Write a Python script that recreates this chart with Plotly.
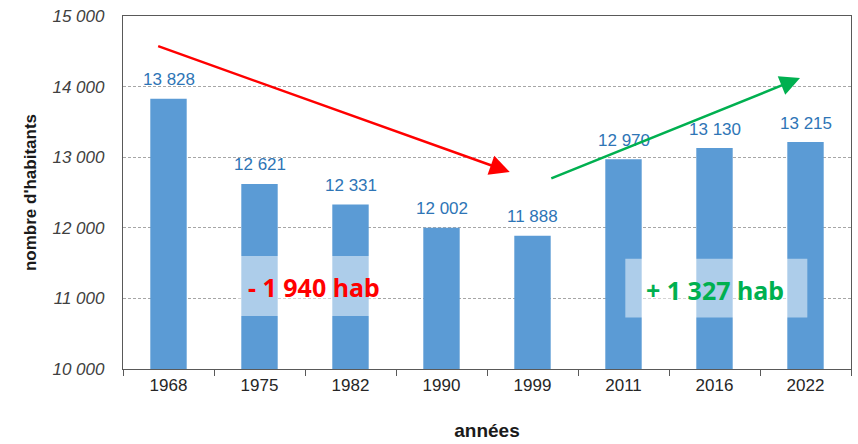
import plotly.graph_objects as go

years = ["1968", "1975", "1982", "1990", "1999", "2011", "2016", "2022"]
population = [13828, 12621, 12331, 12002, 11888, 12970, 13130, 13215]
y_ticks = [10000, 11000, 12000, 13000, 14000, 15000]
decline_text = "- 1 940 hab"
growth_text = "+ 1 327 hab"

BAR = "#5B9BD5"
LABEL = "#2E75B6"
AXIS = "#595959"

def fmt(v):
    return f"{v:,}".replace(",", " ")

fig = go.Figure()
fig.add_trace(go.Bar(x=years, y=population, marker=dict(color=BAR, line=dict(width=0)),
                     width=0.4, hoverinfo="x+y"))

annotations = []
for i, v in enumerate(population):
    annotations.append(dict(x=i, y=v, xref="x", yref="y", text=fmt(v), showarrow=False,
                            yanchor="middle", yshift=19,
                            font=dict(family="Liberation Sans, Arial", size=17, color=LABEL)))

# trend arrows
annotations.append(dict(x=3.75, y=12790, ax=-0.13, ay=14580, axref="x", ayref="y", xref="x", yref="y",
                        text="", showarrow=True, arrowhead=2, arrowsize=1.6, arrowwidth=2.5,
                        arrowcolor="#FF0000", standoff=0))
annotations.append(dict(x=6.94, y=14122, ax=4.19, ay=12691, axref="x", ayref="y", xref="x", yref="y",
                        text="", showarrow=True, arrowhead=2, arrowsize=1.6, arrowwidth=2.5,
                        arrowcolor="#00B050", standoff=0))

annotations.append(dict(x=1.6, y=11165, text=f"<b>{decline_text}</b>", showarrow=False,
                        font=dict(family="Noto Sans", size=25, color="#FF0000")))
annotations.append(dict(x=6.0, y=11125, text=f"<b>{growth_text}</b>", showarrow=False,
                        font=dict(family="Noto Sans", size=25, color="#00B050")))

shapes = [
    dict(type="rect", xref="x", yref="y", x0=0.75, x1=2.3, y0=10750, y1=11600,
         fillcolor="rgba(255,255,255,0.5)", line=dict(width=0), layer="above"),
    dict(type="rect", xref="x", yref="y", x0=5.02, x1=7.02, y0=10730, y1=11560,
         fillcolor="rgba(255,255,255,0.5)", line=dict(width=0), layer="above"),
]

fig.update_layout(
    width=858, height=444,
    margin=dict(l=123, r=7, t=16, b=75),
    paper_bgcolor="white", plot_bgcolor="white",
    separators=", ",
    showlegend=False,
    annotations=annotations,
    shapes=shapes,
    xaxis=dict(
        type="category", tickson="boundaries", ticks="outside", ticklen=6, tickcolor=AXIS,
        showline=True, linecolor=AXIS, linewidth=1.3, mirror=True, showgrid=False,
        automargin=False,
        tickfont=dict(family="Liberation Sans, Arial", size=17, color="#262626"),
        title=dict(text="<b>années</b>", standoff=30,
                   font=dict(family="Liberation Sans, Arial", size=19, color="#1a1a1a")),
        range=[-0.5, 7.5],
    ),
    yaxis=dict(
        range=[10000, 15000], tickvals=y_ticks, tickformat=",d",
        showline=True, linecolor=AXIS, linewidth=1.3, mirror=True,
        showgrid=True, gridcolor="#A6A6A6", gridwidth=1, griddash="3px,2px",
        ticks="", ticklabelstandoff=14, zeroline=False, automargin=False,
        tickfont=dict(family="Liberation Sans, Arial", size=17, color="#404040", style="italic"),
        title=dict(text="<b>nombre d'habitants</b>", standoff=11,
                   font=dict(family="Liberation Sans, Arial", size=17, color="#1a1a1a")),
    ),
)

fig.write_html("out.html", config={"displayModeBar": False},
               post_script="document.body.style.margin='0';document.body.style.overflow='hidden';")
